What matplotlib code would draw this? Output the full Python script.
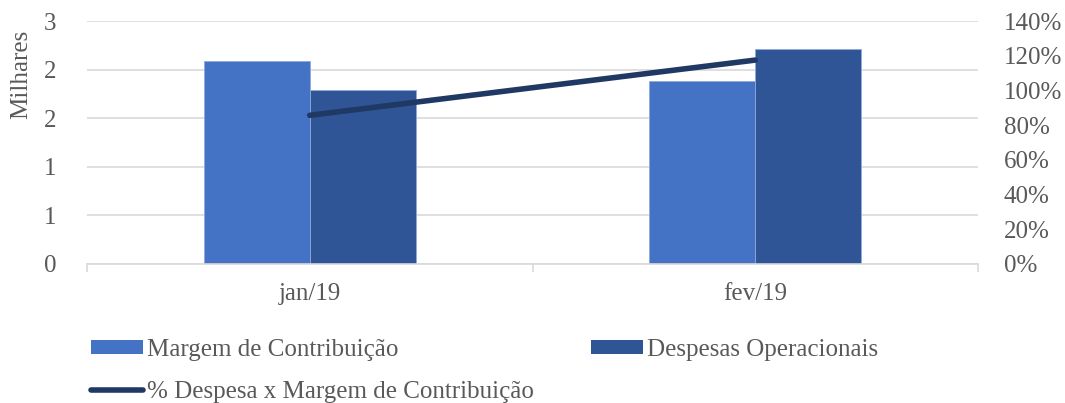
import matplotlib
matplotlib.use("Agg")
import matplotlib.pyplot as plt
from matplotlib.patches import Patch
from matplotlib.lines import Line2D
from matplotlib.ticker import FixedLocator, FuncFormatter
import numpy as np

categories = ["jan/19", "fev/19"]
margem = [2.51, 2.26]          # Milhares
despesas = [2.15, 2.66]        # Milhares
pct = [0.857, 1.176]           # % Despesa x Margem
left_ticks = [0, 0.6, 1.2, 1.8, 2.4, 3.0]
right_ticks = [0, 0.2, 0.4, 0.6, 0.8, 1.0, 1.2, 1.4]

TXT = "#595959"
GRID = "#D9D9D9"
C1 = "#4472C4"
C2 = "#2F5597"
CL = "#1F3864"
FS = 18
plt.rcParams["font.family"] = ["Liberation Serif", "DejaVu Serif"]

fig = plt.figure(figsize=(10.65, 4.03), dpi=100)
ax = fig.add_axes([87/1065, 1 - 263.7/403, (978-87)/1065, (263.7-21.3)/403])
x = np.arange(len(categories))
w = 0.238
ax.bar(x - w/2, margem, w, color=C1, edgecolor="#8FAADC", linewidth=0.6, zorder=2)
ax.bar(x + w/2, despesas, w, color=C2, edgecolor="#8FAADC", linewidth=0.6, zorder=2)
ax.set_xlim(-0.5, 1.5)
ax.set_ylim(0, 3)
ax.yaxis.set_major_locator(FixedLocator(left_ticks))
ax.yaxis.set_major_formatter(FuncFormatter(lambda v, p: f"{v:.0f}"))
ax.grid(axis="y", color=GRID, linewidth=1.2, zorder=0)
ax.set_axisbelow(True)
for s in ["top", "left", "right"]:
    ax.spines[s].set_visible(False)
ax.spines["bottom"].set_color(GRID)
ax.spines["bottom"].set_linewidth(1.2)
ax.set_xticks(x)
ax.set_xticklabels(categories)
ax.tick_params(axis="x", length=0, pad=14, labelsize=FS, labelcolor=TXT)
ax.set_xticks([-0.5, 0.5, 1.5], minor=True)
ax.tick_params(axis="x", which="minor", length=6, color=GRID, width=1.2)
ax.tick_params(axis="y", length=0, pad=22, labelsize=FS, labelcolor=TXT)
fig.text(21.5/1065, 1 - 74.5/403, "Milhares", rotation=90, ha="center", va="center",
         fontsize=FS, color=TXT)

ax2 = ax.twinx()
ax2.set_ylim(0, 1.4)
ax2.yaxis.set_major_locator(FixedLocator(right_ticks))
ax2.yaxis.set_major_formatter(FuncFormatter(lambda v, p: f"{v*100:.0f}%"))
ax2.tick_params(axis="y", length=0, pad=18.5, labelsize=FS, labelcolor=TXT)
for s in ["top", "left", "right", "bottom"]:
    ax2.spines[s].set_visible(False)
ax2.plot(x, pct, color=CL, linewidth=4, solid_capstyle="round", zorder=3)

def leg(handle, label, xpx, ypx, hl, hh=0.7):
    fig.legend(handles=[handle], labels=[label], loc="center left",
               bbox_to_anchor=(xpx/1065, 1 - ypx/403), frameon=False,
               fontsize=FS, labelcolor=TXT, handlelength=hl, handleheight=hh,
               handletextpad=0.15, borderpad=0, borderaxespad=0)

hl = 52 / (FS * 100 / 72)
leg(Patch(facecolor=C1), "Margem de Contribuição", 91, 350, hl, 0.5)
leg(Patch(facecolor=C2), "Despesas Operacionais", 591, 350, hl, 0.5)
leg(Line2D([], [], color=CL, linewidth=4, solid_capstyle="round"),
    "% Despesa x Margem de Contribuição", 91, 392, hl)

fig.savefig("out.png", dpi=100)
